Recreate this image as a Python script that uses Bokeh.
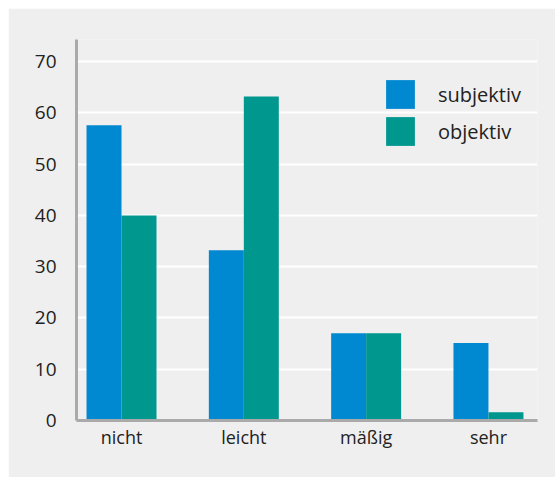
from bokeh.plotting import figure
from bokeh.models import Range1d, FixedTicker, ColumnDataSource, Legend, LegendItem
from bokeh.transform import dodge
from bokeh.embed import file_html
from bokeh.resources import INLINE

categories = ["nicht", "leicht", "mäßig", "sehr"]
subjektiv = [57.6, 33.2, 17.0, 15.1]
objektiv = [40.0, 63.2, 17.0, 1.6]
y_ticks = [0, 10, 20, 30, 40, 50, 60, 70]

BG = "#efefef"
BLUE = "#0088d0"
TEAL = "#00978f"
FONT = "Open Sans"

src = ColumnDataSource(dict(x=list(range(len(categories))), subjektiv=subjektiv, objektiv=objektiv))

p = figure(width=547, height=469, output_backend="svg", toolbar_location=None,
           x_range=Range1d(-0.368, 3.401), y_range=Range1d(0, 74.3),
           min_border_left=68, min_border_right=18, min_border_top=31, min_border_bottom=57)
p.margin = (8, 0, 0, 8)
p.background_fill_color = BG
p.border_fill_color = BG
p.outline_line_color = None

bw = 0.286
r1 = p.vbar(x=dodge("x", -bw / 2), top="subjektiv", width=bw, source=src, color=BLUE, line_color=None)
r2 = p.vbar(x=dodge("x", bw / 2), top="objektiv", width=bw, source=src, color=TEAL, line_color=None)

p.xgrid.visible = False
p.ygrid.grid_line_color = "white"
p.ygrid.grid_line_width = 2
p.ygrid.ticker = FixedTicker(ticks=y_ticks)

for ax in (p.xaxis[0], p.yaxis[0]):
    ax.axis_line_color = "#aaaaaa"
    ax.axis_line_width = 3
    ax.major_tick_line_color = None
    ax.minor_tick_line_color = None
    ax.major_label_text_font = FONT
    ax.major_label_text_font_size = "18px"
    ax.major_label_text_color = "#222222"

p.xaxis.ticker = FixedTicker(ticks=list(range(len(categories))))
p.xaxis.major_label_overrides = {i: c for i, c in enumerate(categories)}
p.xaxis.major_label_standoff = -2
p.yaxis.ticker = FixedTicker(ticks=y_ticks)
p.yaxis.major_label_standoff = 14
p.yaxis.major_label_text_font_size = "19px"

legend = Legend(items=[LegendItem(label="subjektiv", renderers=[r1]),
                       LegendItem(label="objektiv", renderers=[r2])],
                location=(306, 271), padding=0, margin=0, spacing=1,
                glyph_width=36, glyph_height=36, label_standoff=20,
                label_text_font=FONT, label_text_font_size="20px", label_text_color="#222222",
                background_fill_alpha=0, border_line_color=None)
p.add_layout(legend, "center")

open("out.html", "w").write(file_html(p, INLINE))
